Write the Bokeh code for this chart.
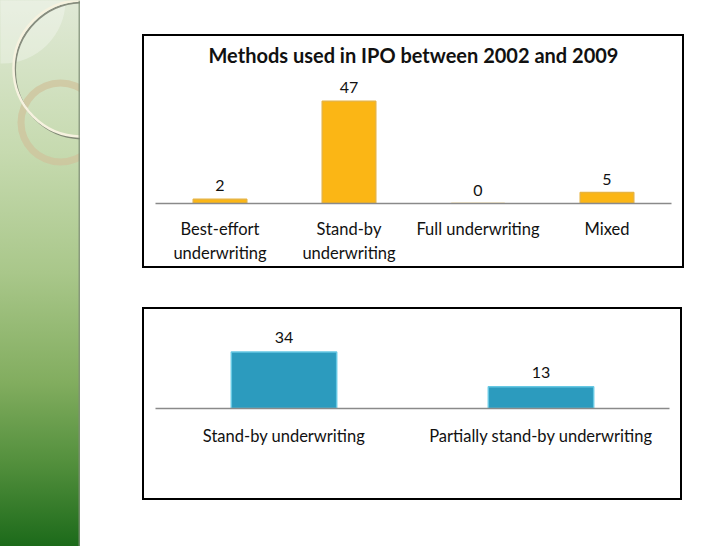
from bokeh.plotting import figure
from bokeh.layouts import row, column, Spacer
from bokeh.models import Range1d, FactorRange, ColumnDataSource, Span
from bokeh.core.properties import value
from bokeh.embed import file_html
from bokeh.resources import INLINE

# ---- data ----
title1 = "Methods used in IPO between 2002 and 2009"
methods = ["Best-effort\nunderwriting", "Stand-by\nunderwriting", "Full underwriting", "Mixed"]
method_counts = [2, 47, 0, 5]

standby = ["Stand-by underwriting", "Partially stand-by underwriting"]
standby_counts = [34, 13]

FONT = "Lato"

# ---- decorative green strip ----
strip = figure(width=80, height=546, x_range=Range1d(0, 80), y_range=Range1d(546, 0),
               x_axis_type=None, y_axis_type=None, output_backend="svg",
               toolbar_location=None, min_border=0)
strip.grid.visible = False
strip.outline_line_color = None
strip.background_fill_alpha = 0
strip.border_fill_alpha = 0
strip.styles = {"background": "linear-gradient(to bottom, #e0e9d6 0%, #c6daaf 28%, #a9c78a 50%, "
                              "#82ad5f 70%, #528f3c 85%, #1c6a1a 100%)"}
strip.circle(x=[2], y=[0], radius=63, fill_color="white", fill_alpha=0.3, line_color=None)
strip.annulus(x=[60], y=[122], inner_radius=36, outer_radius=43,
              fill_color="#cfc39c", fill_alpha=0.75, line_color=None)
strip.circle(x=[82.5], y=[70], radius=68, fill_color=None, line_color="#6f7466",
             line_width=2, line_alpha=0.8)
strip.circle(x=[81], y=[68], radius=68, fill_color=None, line_color="#f6f2df", line_width=2.5)
strip.add_layout(Span(location=79, dimension="height", line_color="#7f8f78",
                      line_width=2, line_alpha=0.8))

# ---- chart 1 ----
src1 = ColumnDataSource(dict(cat=methods, val=method_counts,
                             lab=[str(v) for v in method_counts]))
p1 = figure(width=542, height=234, x_range=FactorRange(*methods), y_range=Range1d(0, 61.1),
            output_backend="svg", toolbar_location=None,
            min_border_left=11, min_border_right=11, min_border_top=0, min_border_bottom=67)
p1.title.text = title1
p1.title.align = "center"
p1.title.text_font = FONT
p1.title.text_font_size = "20px"
p1.title.text_font_style = "bold"
p1.title.text_color = "#111111"
p1.title.text_line_height = 1.0
p1.title.standoff = 8
p1.vbar(x="cat", top="val", width=0.415, source=src1,
        fill_color="#fbb615", line_color="#e8b440", line_width=1.5)
p1.text(x="cat", y="val", text="lab", source=src1, text_align="center",
        text_baseline="bottom", y_offset=-8, text_font=value(FONT),
        text_font_size="16px", text_color="#111111")

# ---- chart 2 ----
src2 = ColumnDataSource(dict(cat=standby, val=standby_counts,
                             lab=[str(v) for v in standby_counts]))
p2 = figure(width=540, height=193, x_range=FactorRange(*standby), y_range=Range1d(0, 50.45),
            output_backend="svg", toolbar_location=None,
            min_border_left=9, min_border_right=15, min_border_top=15, min_border_bottom=94)
p2.vbar(x="cat", top="val", width=0.41, source=src2,
        fill_color="#2c9bbe", line_color="#66c8e3", line_width=1.5)
p2.text(x="cat", y="val", text="lab", source=src2, text_align="center",
        text_baseline="bottom", y_offset=-9, text_font=value(FONT),
        text_font_size="16px", text_color="#111111")

for p in (p1, p2):
    p.yaxis.visible = False
    p.grid.visible = False
    p.outline_line_color = None
    p.xaxis.axis_line_color = "#8a8a8a"
    p.xaxis.axis_line_width = 1.5
    p.xaxis.major_tick_line_color = None
    p.xaxis.minor_tick_line_color = None
    p.xaxis.major_label_text_font = FONT
    p.xaxis.major_label_text_font_size = "16.5px"
    p.xaxis.major_label_text_color = "#111111"
    p.styles = {"border": "2px solid #000000"}

p1.xaxis.major_label_standoff = 9
p2.xaxis.major_label_standoff = 11

layout = row(strip, Spacer(width=62),
             column(Spacer(height=34), p1, Spacer(height=39), p2))

open("out.html", "w").write(file_html(layout, INLINE))
